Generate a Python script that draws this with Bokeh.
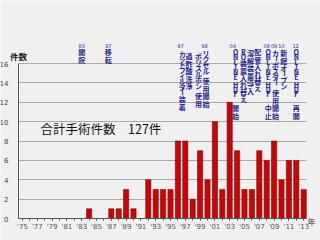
import math
from bokeh.plotting import figure
from bokeh.models import Range1d, FixedTicker, Label, ColumnDataSource
from bokeh.core.properties import value
from bokeh.embed import file_html
from bokeh.resources import INLINE

# ---------------- data ----------------
years = list(range(1975, 2014))
counts = [0, 0, 0, 0, 0, 0, 0, 0, 0, 1,
          0, 0, 1, 1, 3, 1, 0, 4, 3, 3,
          3, 8, 8, 2, 7, 4, 10, 3, 12, 7,
          3, 3, 7, 6, 8, 4, 6, 6, 3]
y_ticks = [0, 2, 4, 6, 8, 10, 12, 14, 16]
x_tick_years = [1975, 1977, 1979, 1981, 1983, 1985, 1987, 1989, 1991, 1993,
                1995, 1997, 1999, 2001, 2003, 2005, 2007, 2009, 2011, 2013]
x_tick_labels = ["'75", "'77", "'79", "'81", "'83", "'85", "'87", "'89", "'91", "'93",
                 "'95", "'97", "'99", "'01", "'03", "'05", "'07", "'09", "'11", "'13"]
title_text = "合計手術件数　127件"
y_title = "件数"
x_title = "年"

# events: small year label and vertical note columns
event_label_years = [1983, 1987, 1997, 1998, 2004, 2008, 2009, 2010, 2012]
event_labels = ["83", "87", "97", "98", "04", "08", "09", "10", "12"]
note_years = [1983, 1987, 1997, 1997, 1998, 1998, 2004, 2004, 2004, 2004,
              2008, 2009, 2010, 2012]
note_texts = ["開院", "移転", "カットフィルター装着", "過酢酸洗浄",
              "ポリスルホン　使用", "リクセル　使用開始",
              "ONLINE HDF　　開始", "RO装置入れ替え", "溶解装置導入", "配管入れ替え",
              "ONLINE HDF　　中止", "カーボスター　使用開始", "新館オープン",
              "ONLINE HDF　　再開"]

# ---------------- layout helpers ----------------
W, H = 320, 240
X0, XS = 22.0, 7.4       # px of 1975, px per year
YB, YS = 218.0, 9.6875   # px of value 0, px per unit
FL, FR = 18, 306         # plot area left / right px


def xdat(px):
    return 1975 + (px - X0) / XS


def ydat(py):
    return (YB - py) / YS


label_dx = [0.0, -0.4, -0.65, 1.6, -0.6, 0.0, 0.0, 0.0, -0.1]
note_dx = [0.0, -0.4, -0.4, 0.5, 0.8, 1.8, -0.2, 0.85, 1.8, 2.8, 0.2, 0.2, 0.3, 0.0]
note_top = [48, 48, 50, 52, 52, 49, 49, 49, 49, 48, 49, 49, 49, 49]

SMALL = set("ッィャュョァェォ")


def step(ch):
    if ch == " ":
        return 3.0
    if ch == "　":
        return 4.0
    if ch.isascii():
        return 4.7 if ch in "HDF" else 5.0
    if ch in SMALL:
        return 4.5
    if "\u3040" <= ch <= "\u30ff":
        return 6.0
    return 7.5


cx, cy, ct, ca = [], [], [], []
for yr, txt, dx, top in zip(note_years, note_texts, note_dx, note_top):
    py = top
    for ch in txt:
        s = step(ch)
        if ch.strip() and ch != "　":
            cx.append(yr + dx)
            cy.append(ydat(py + s / 2))
            ct.append(ch)
            ca.append(math.pi / 2 if ch == "ー" else 0.0)
        py += s
notes_src = ColumnDataSource(dict(x=cx, y=cy, text=ct, angle=ca))
lab_src = ColumnDataSource(dict(x=[y + d for y, d in zip(event_label_years, label_dx)],
                                y=[ydat(45)] * len(event_labels),
                                text=event_labels))

# ---------------- figure ----------------
BG = "#f0f0f0"
p = figure(width=W, height=H, output_backend="svg", toolbar_location=None,
           title=None,
           x_range=Range1d(xdat(0), xdat(W)),
           y_range=Range1d(ydat(H), ydat(0)),
           min_border_left=0, min_border_right=0,
           min_border_top=0, min_border_bottom=0)
p.background_fill_color = BG
p.border_fill_color = BG
p.outline_line_color = None

p.xgrid.visible = False
yg = p.ygrid[0]
yg.ticker = FixedTicker(ticks=y_ticks[1:])
yg.grid_line_color = "#a9a9a9"
yg.grid_line_width = 1
if "cross_bounds" in yg.properties():
    yg.cross_bounds = (xdat(FL), xdat(FR))
else:
    yg.visible = False
    p.segment(x0=[xdat(FL)] * (len(y_ticks) - 1), x1=[xdat(FR)] * (len(y_ticks) - 1),
              y0=y_ticks[1:], y1=y_ticks[1:], line_color="#a9a9a9", line_width=1)

ya = p.yaxis[0]
ya.fixed_location = xdat(FL)
ya.ticker = FixedTicker(ticks=y_ticks)
ya.bounds = (0, 16)
ya.axis_line_color = "#555555"
ya.major_tick_line_color = None
ya.minor_tick_line_color = None
ya.major_label_text_font = "DejaVu Sans"
ya.major_label_text_font_size = "7px"
ya.major_label_text_color = "#444444"
ya.major_label_standoff = 4

xa = p.xaxis[0]
xa.fixed_location = 0
xa.bounds = (xdat(FL), xdat(FR))
xa.ticker = FixedTicker(ticks=x_tick_years, minor_ticks=years)
xa.major_label_overrides = {y: l for y, l in zip(x_tick_years, x_tick_labels)}
xa.axis_line_color = "#555555"
xa.major_tick_line_color = "#555555"
xa.minor_tick_line_color = "#555555"
xa.major_tick_in = 0
xa.major_tick_out = 2
xa.minor_tick_in = 0
xa.minor_tick_out = 2
xa.major_label_text_font = "DejaVu Sans"
xa.major_label_text_font_size = "7px"
xa.major_label_text_color = "#555555"
xa.major_label_standoff = 2

p.vbar(x=years, top=counts, width=0.7, fill_color="#c20808",
       line_color="#8a0000", line_width=0.6)

p.text(x="x", y="y", text="text", angle="angle", source=notes_src,
       text_font=value("Noto Sans CJK JP"), text_font_size="7px",
       text_font_style="bold",
       text_color="#1f1f8c", text_align="center", text_baseline="middle")
p.text(x="x", y="y", text="text", source=lab_src,
       text_font=value("DejaVu Sans"), text_font_size="5px",
       text_color="#1f1f8c", text_align="center", text_baseline="middle")

p.add_layout(Label(x=40, y=H - 128, x_units="screen", y_units="screen",
                   text=title_text, text_font="Noto Sans CJK JP",
                   text_font_size="12.5px", text_color="#111111",
                   text_align="left", text_baseline="middle"))
p.add_layout(Label(x=18, y=H - 55, x_units="screen", y_units="screen",
                   text=y_title, text_font="Noto Sans CJK JP",
                   text_font_size="8.5px", text_font_style="bold",
                   text_color="#222222", text_align="center",
                   text_baseline="middle"))
p.add_layout(Label(x=311, y=H - 221, x_units="screen", y_units="screen",
                   text=x_title, text_font="Noto Sans CJK JP",
                   text_font_size="8px", text_color="#333333",
                   text_align="center", text_baseline="middle"))

open("out.html", "w").write(file_html(p, INLINE))
